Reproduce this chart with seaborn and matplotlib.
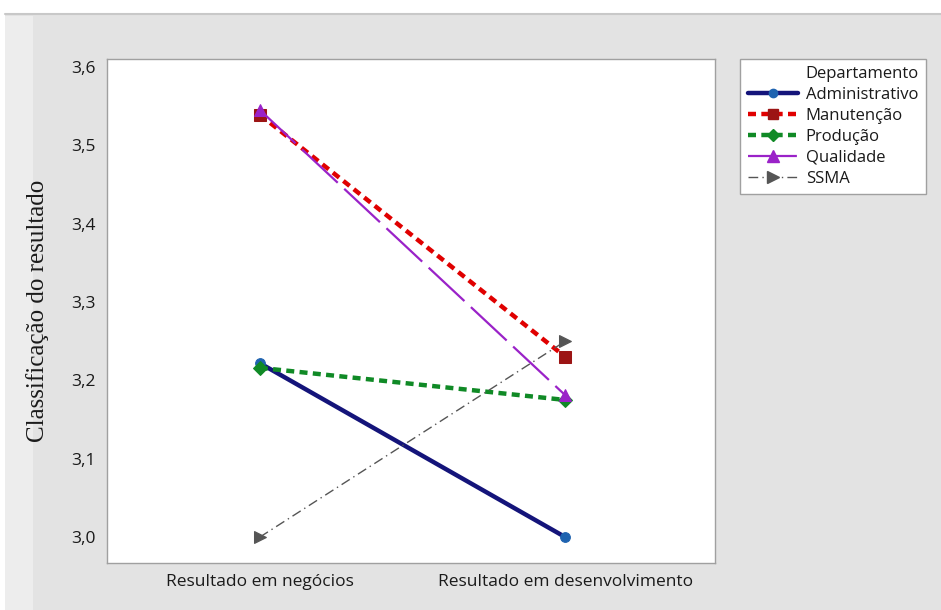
import matplotlib
matplotlib.use("Agg")
import matplotlib.pyplot as plt
from matplotlib.patches import Rectangle
from matplotlib.lines import Line2D
import pandas as pd
import seaborn as sns

# Mean ratings by department for each result type
categories = ["Resultado em negócios", "Resultado em desenvolvimento"]
departments = ["Administrativo", "Manutenção", "Produção", "Qualidade", "SSMA"]
administrativo = [3.222, 3.000]
manutencao = [3.539, 3.230]
producao = [3.216, 3.175]
qualidade = [3.545, 3.181]
ssma = [3.000, 3.250]
y_ticks = [3.0, 3.1, 3.2, 3.3, 3.4, 3.5, 3.6]

series = [administrativo, manutencao, producao, qualidade, ssma]
df = pd.DataFrame({
    "Resultado": categories * len(departments),
    "Departamento": [d for d in departments for _ in categories],
    "Classificação": [v for s in series for v in s],
})

styles = {
    "Administrativo": dict(color="#14147a", mfc="#1f63b0", mec="#1f63b0", marker="o", ms=7, lw=3.2, ls="-"),
    "Manutenção": dict(color="#e00000", mfc="#9c1414", mec="#9c1414", marker="s", ms=8, lw=3.2, ls=(0, (1.8, 1.2))),
    "Produção": dict(color="#108a26", mfc="#108a26", mec="#108a26", marker="D", ms=7, lw=3.2, ls=(0, (1.8, 1.2))),
    "Qualidade": dict(color="#9a22c8", mfc="#9a22c8", mec="#9a22c8", marker="^", ms=9, lw=1.6, ls=(0, (22, 4))),
    "SSMA": dict(color="#555555", mfc="#555555", mec="#555555", marker=">", ms=9, lw=1.0, ls=(0, (7, 3, 1, 3))),
}

sns.set_style("white")
plt.rcParams["font.family"] = ["Open Sans", "DejaVu Sans"]

fig = plt.figure(figsize=(9.41, 6.10), dpi=100)
W, H = 941, 610

# Panel background
fig.patches.append(Rectangle((5 / W, 0), 1, (H - 14) / H, transform=fig.transFigure,
                             facecolor="#e3e3e3", edgecolor="none", zorder=-3))
fig.patches.append(Rectangle((5 / W, 0), 28 / W, (H - 16) / H, transform=fig.transFigure,
                             facecolor="#ededed", edgecolor="none", zorder=-2))
fig.lines.append(Line2D([5 / W, 1], [(H - 14) / H] * 2, transform=fig.transFigure,
                        color="#c8c8c8", lw=1.5))

ax = fig.add_axes([107 / W, (H - 563) / H, 608 / W, 504 / H])
ax.set_facecolor("white")

for dep in departments:
    st = styles[dep]
    sub = df[df["Departamento"] == dep]
    sns.lineplot(data=sub, x="Resultado", y="Classificação", ax=ax, sort=False,
                 color=st["color"], lw=st["lw"], linestyle=st["ls"],
                 marker=st["marker"], markersize=st["ms"],
                 markerfacecolor=st["mfc"], markeredgecolor=st["mec"],
                 label=dep, legend=False)

ax.set_xlim(-0.5, 1.49)
ax.set_ylim(2.967, 3.610)
ax.set_yticks(y_ticks)
ax.set_yticklabels([f"{t:.1f}".replace(".", ",") for t in y_ticks])
ax.set_xticks([0, 1])
ax.set_xticklabels(categories)
ax.tick_params(axis="both", labelsize=12.5, colors="#555555", length=4, width=0.8,
               direction="out", pad=4)
ax.tick_params(axis="both", labelcolor="#1a1a1a")
for s in ax.spines.values():
    s.set_color("#a0a0a0")
    s.set_linewidth(1.0)
ax.set_xlabel("")
ax.set_ylabel("Classificação do resultado", family=["Liberation Serif", "DejaVu Serif"],
              fontsize=18, color="#1a1a1a", labelpad=16)

# Legend
handles = [Line2D([], [], color="none", label="Departamento")]
for dep in departments:
    st = styles[dep]
    handles.append(Line2D([], [], color=st["color"], lw=st["lw"], linestyle=st["ls"],
                          marker=st["marker"], markersize=st["ms"] - 1,
                          markerfacecolor=st["mfc"], markeredgecolor=st["mec"], label=dep))
leg = fig.legend(handles=handles, loc="upper left", bbox_to_anchor=(740 / W, (H - 59) / H),
                 frameon=True, fancybox=False, framealpha=1.0, fontsize=12, handlelength=3.0,
                 labelspacing=0.29, borderpad=0.45, handletextpad=0.5, borderaxespad=0)
leg.get_frame().set_edgecolor("#a0a0a0")
leg.get_frame().set_facecolor("white")
leg.get_frame().set_linewidth(1.0)
for t in leg.get_texts():
    t.set_color("#1a1a1a")

fig.savefig("out.png", dpi=100, facecolor="white")
